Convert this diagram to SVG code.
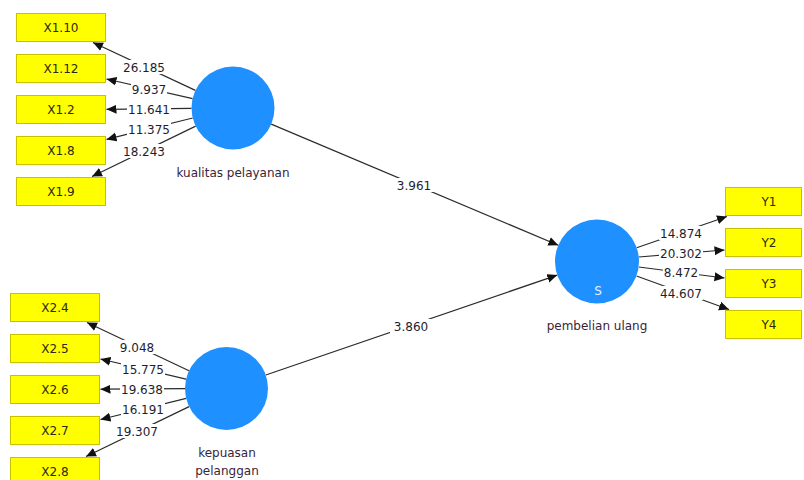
<svg xmlns="http://www.w3.org/2000/svg" width="804" height="480" viewBox="0 0 804 480">
<style>
.box{fill:#ffff00;stroke:#c8c000;stroke-width:1}
.lv{fill:#1e90ff}
.bt{font-family:"DejaVu Sans",sans-serif;font-size:12px;fill:#2a2a10;text-anchor:middle}
.nt{font-family:"DejaVu Sans",sans-serif;font-size:12px;fill:#3a2438;text-anchor:middle}
.num{font-family:"DejaVu Sans",sans-serif;font-size:12px;fill:#1e1e30;text-anchor:middle}
.ln{stroke:#2b2b2b;stroke-width:1.2;fill:none;marker-end:url(#ah)}
.bg{fill:#ffffff}
</style>
<defs>
<marker id="ah" viewBox="0 0 10 10" refX="10" refY="5" markerWidth="10" markerHeight="10" markerUnits="userSpaceOnUse" orient="auto">
<path d="M0,0.5 L10,5 L0,9.5 Z" fill="#111"/>
</marker>
</defs>
<rect width="804" height="480" fill="#ffffff"/>
<g id="connectors">
<line class="ln" x1="195.4" y1="90.4" x2="93" y2="42.5"/>
<line class="ln" x1="192.6" y1="98.7" x2="106.5" y2="79"/>
<line class="ln" x1="191.5" y1="108.4" x2="106.5" y2="109.3"/>
<line class="ln" x1="192.7" y1="118" x2="106.5" y2="139.4"/>
<line class="ln" x1="195.7" y1="126.1" x2="92" y2="176.5"/>
<line class="ln" x1="189" y1="370.8" x2="87" y2="322.5"/>
<line class="ln" x1="186.1" y1="379.1" x2="100.5" y2="359"/>
<line class="ln" x1="185" y1="388.7" x2="100.5" y2="389.2"/>
<line class="ln" x1="186.2" y1="398.4" x2="100.5" y2="419.5"/>
<line class="ln" x1="189.1" y1="406.6" x2="86" y2="456.5"/>
<line class="ln" x1="636.7" y1="247.7" x2="727" y2="216.5"/>
<line class="ln" x1="638.7" y1="257" x2="724.5" y2="250"/>
<line class="ln" x1="638.7" y1="267" x2="724.5" y2="278"/>
<line class="ln" x1="636.5" y1="276" x2="729" y2="309.5"/>
<line class="ln" x1="271.2" y1="124.1" x2="558.3" y2="245.2"/>
<line class="ln" x1="265.8" y1="375" x2="557.3" y2="275.1"/>
<rect class="bg" x="122" y="60" width="44" height="14"/><text class="num" x="144" y="71.5">26.185</text>
<rect class="bg" x="131" y="82" width="36" height="14"/><text class="num" x="149" y="93.5">9.937</text>
<rect class="bg" x="127" y="102" width="44" height="14"/><text class="num" x="149" y="113.5">11.641</text>
<rect class="bg" x="127" y="122" width="44" height="14"/><text class="num" x="149" y="133.5">11.375</text>
<rect class="bg" x="122" y="144" width="44" height="14"/><text class="num" x="144" y="155.5">18.243</text>
<rect class="bg" x="119" y="340" width="36" height="14"/><text class="num" x="137" y="351.5">9.048</text>
<rect class="bg" x="121" y="362" width="44" height="14"/><text class="num" x="143" y="373.5">15.775</text>
<rect class="bg" x="120" y="382" width="44" height="14"/><text class="num" x="142" y="393.5">19.638</text>
<rect class="bg" x="121" y="402" width="44" height="14"/><text class="num" x="143" y="413.5">16.191</text>
<rect class="bg" x="115" y="424" width="44" height="14"/><text class="num" x="137" y="435.5">19.307</text>
<rect class="bg" x="659" y="226" width="44" height="14"/><text class="num" x="681" y="237.5">14.874</text>
<rect class="bg" x="659" y="246" width="44" height="14"/><text class="num" x="681" y="257.5">20.302</text>
<rect class="bg" x="663" y="265" width="36" height="14"/><text class="num" x="681" y="276.5">8.472</text>
<rect class="bg" x="659" y="286" width="44" height="14"/><text class="num" x="681" y="297.5">44.607</text>
<rect class="bg" x="393" y="178" width="42" height="14"/><text class="num" x="414" y="189.5">3.961</text>
<rect class="bg" x="390" y="319" width="42" height="14"/><text class="num" x="411" y="330.5">3.860</text>
</g>
<g id="kualitas_pelayanan">
<circle class="lv" cx="233" cy="108" r="41.5"/>
<text class="nt" x="233" y="177">kualitas pelayanan</text>
</g>
<g id="kepuasan_pelanggan">
<circle class="lv" cx="226.5" cy="388.5" r="41.5"/>
<text class="nt" x="227" y="457">kepuasan</text>
<text class="nt" x="227" y="475">pelanggan</text>
</g>
<g id="pembelian_ulang">
<circle class="lv" cx="597" cy="261.5" r="42"/>
<text x="598" y="295" font-family="DejaVu Sans, sans-serif" font-size="12" fill="#e8f2ff" text-anchor="middle">S</text>
<text class="nt" x="597" y="330">pembelian ulang</text>
</g>
<g id="X1.10"><rect class="box" x="16.5" y="13.5" width="89" height="28"/><text class="bt" x="61" y="32">X1.10</text></g>
<g id="X1.12"><rect class="box" x="16.5" y="54.5" width="89" height="28"/><text class="bt" x="61" y="73">X1.12</text></g>
<g id="X1.2"><rect class="box" x="16.5" y="95.5" width="89" height="28"/><text class="bt" x="61" y="114">X1.2</text></g>
<g id="X1.8"><rect class="box" x="16.5" y="136.5" width="89" height="28"/><text class="bt" x="61" y="155">X1.8</text></g>
<g id="X1.9"><rect class="box" x="16.5" y="177.5" width="89" height="28"/><text class="bt" x="61" y="196">X1.9</text></g>
<g id="X2.4"><rect class="box" x="10.5" y="293.5" width="89" height="28"/><text class="bt" x="55" y="312">X2.4</text></g>
<g id="X2.5"><rect class="box" x="10.5" y="334.5" width="89" height="28"/><text class="bt" x="55" y="353">X2.5</text></g>
<g id="X2.6"><rect class="box" x="10.5" y="375.5" width="89" height="28"/><text class="bt" x="55" y="394">X2.6</text></g>
<g id="X2.7"><rect class="box" x="10.5" y="416.5" width="89" height="28"/><text class="bt" x="55" y="435">X2.7</text></g>
<g id="X2.8"><rect class="box" x="10.5" y="457.5" width="89" height="28"/><text class="bt" x="55" y="476">X2.8</text></g>
<g id="Y1"><rect class="box" x="725.5" y="187.5" width="76" height="28"/><text class="bt" x="769" y="206">Y1</text></g>
<g id="Y2"><rect class="box" x="725.5" y="228.5" width="76" height="28"/><text class="bt" x="769" y="247">Y2</text></g>
<g id="Y3"><rect class="box" x="725.5" y="269.5" width="76" height="28"/><text class="bt" x="769" y="288">Y3</text></g>
<g id="Y4"><rect class="box" x="725.5" y="310.5" width="76" height="28"/><text class="bt" x="769" y="329">Y4</text></g>
</svg>
